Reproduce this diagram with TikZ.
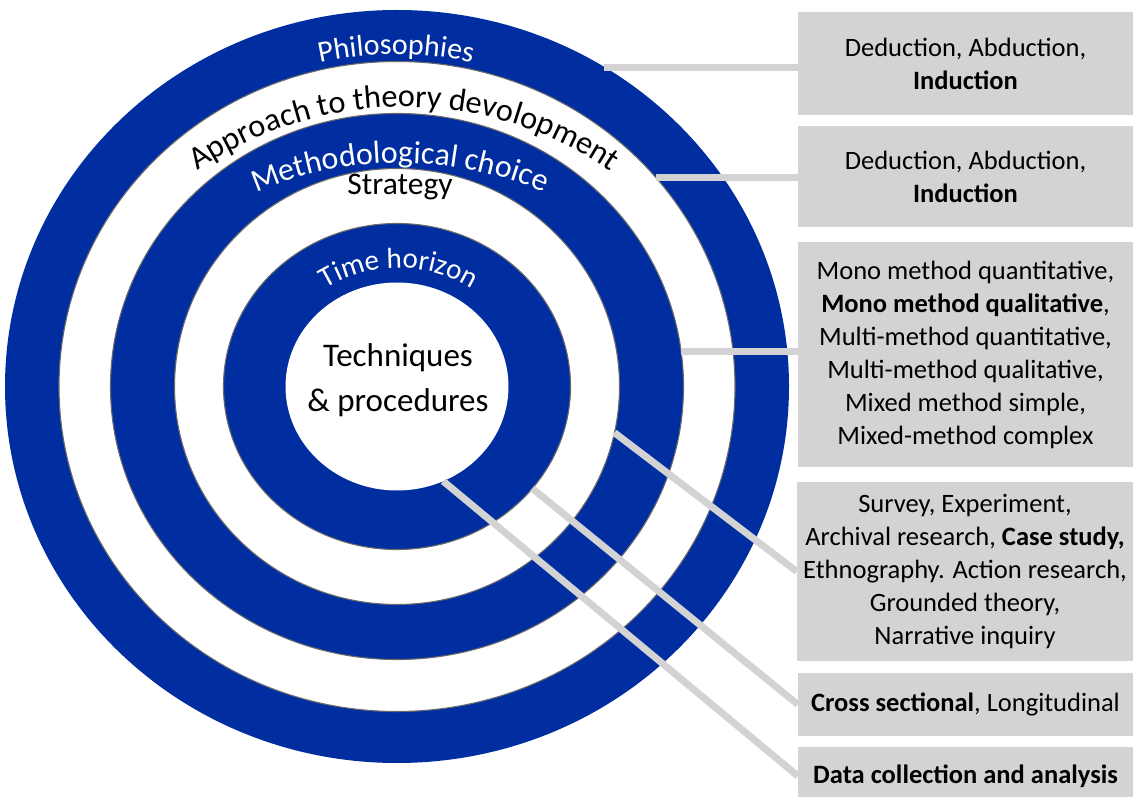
\documentclass[tikz,border=0pt]{standalone}
\usepackage{fontspec}
\setmainfont{Carlito}
\usetikzlibrary{shapes.geometric,decorations.text}
\definecolor{ringblue}{RGB}{0,46,160}
\definecolor{boxgray}{RGB}{211,211,211}
\definecolor{edgegray}{RGB}{105,105,105}
\begin{document}
\begin{tikzpicture}[x=1pt,y=1pt,
  ringshape/.style={ellipse, inner sep=0pt, outer sep=0pt},
  bluering/.style={ringshape, fill=ringblue},
  whitering/.style={ringshape, fill=white},
  ringedge/.style={draw=edgegray, line width=1.1pt},
  infobox/.style={fill=boxgray, inner sep=0pt, minimum width=335pt, align=center,
                  font=\fontsize{26.5}{33}\selectfont},
  conn/.style={draw=boxgray, line width=7pt}]
\useasboundingbox (0,0) rectangle (1135,796);
\clip (0,0) rectangle (1135,796);

% rings
\node[bluering, minimum width=784pt, minimum height=753pt] (ring1) at (397,409.5) {};
\node[whitering, ringedge, minimum width=676pt, minimum height=650pt] (ring2) at (397,409.5) {};
\node[bluering, ringedge, minimum width=573pt, minimum height=546pt] (ring3) at (397,409.5) {};
\node[whitering, ringedge, minimum width=445pt, minimum height=436pt] (ring4) at (397,409.5) {};
\node[bluering, ringedge, minimum width=347pt, minimum height=326pt] (ring5) at (397,409.5) {};
\node[whitering, minimum width=223pt, minimum height=208pt] (ring6) at (397,409.5) {};

% curved ring labels
\path[decorate, decoration={text along path, text align=center,
  text={|\fontsize{30}{34}\selectfont\color{white}|Philosophies}}]
  (396,409.5) ++(150:345pt and 332pt) arc[start angle=150, end angle=30, x radius=345pt, y radius=332pt];
\path[decorate, decoration={text along path, text align=center,
  text={|\fontsize{32.3}{36}\selectfont\color{black}|Approach to theory devolopment}}]
  (404,324) ++(150:365pt) arc[start angle=150, end angle=30, radius=365pt];
\path[decorate, decoration={text along path, text align=center,
  text={|\fontsize{32}{36}\selectfont\color{white}|Methodological choice}}]
  (400,268) ++(130:365pt) arc[start angle=130, end angle=50, radius=365pt];
\path[decorate, decoration={text along path, text align=center,
  text={|\fontsize{29}{32}\selectfont\color{white}|Time horizon}}]
  (399,388) ++(170:140pt) arc[start angle=170, end angle=10, radius=140pt];

\node[font=\fontsize{31.5}{34}\selectfont, anchor=base, inner sep=0pt] (strategy) at (400,601) {Strategy};
\node[font=\fontsize{33}{45}\selectfont, align=center] (tech) at (398,416) {Techniques\\\& procedures};

% boxes
\node[infobox, minimum height=103pt] (box1) at (965.5,732.5) {Deduction, Abduction,\\\textbf{Induction}};
\node[infobox, minimum height=101pt] (box2) at (965.5,619.5) {Deduction, Abduction,\\\textbf{Induction}};
\node[infobox, minimum height=225pt] (box3) at (965.5,441.5) {Mono method quantitative,\\\textbf{Mono method qualitative},\\Multi-method quantitative,\\Multi-method qualitative,\\Mixed method simple,\\Mixed-method complex};
\node[infobox, minimum height=179pt, minimum width=336pt] (box4) at (965,224.5) {Survey, Experiment,\\Archival research, \textbf{Case study,}\\Ethnography. Action research,\\Grounded theory,\\Narrative inquiry};
\node[infobox, minimum height=63pt] (box5) at (965.5,91.5) {\textbf{Cross sectional}, Longitudinal};
\node[infobox, minimum height=58pt] (box6) at (965.5,20) {\textbf{Data collection and analysis}};

% connectors
\draw[conn] (ring1.57) -- (ring1.57 -| box1.west);
\draw[conn] (ring2.39) -- (ring2.39 -| box2.west);
\draw[conn] (ring3.7) -- (ring3.7 -| box3.west);
\draw[conn] (ring4.-12) -- (box4.west);
\draw[conn] (ring5.-37) -- (box5.west);
\draw[conn] (ring6.-64) -- (box6.west);
\end{tikzpicture}
\end{document}
